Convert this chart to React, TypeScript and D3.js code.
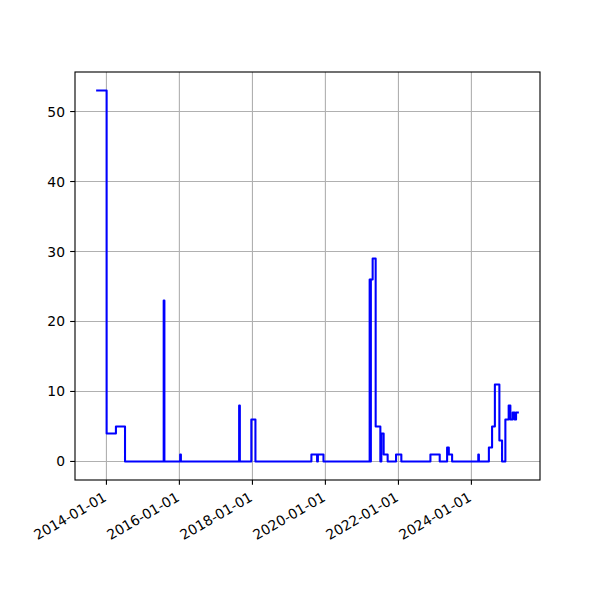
import React, { useRef, useEffect } from "react";
import * as d3 from "d3";

// change points of the step series (value holds until the next date)
const dates = [
  "2013-09-20", "2014-01-03", "2014-04-06", "2014-07-06",
  "2015-07-28", "2015-08-04", "2016-01-09", "2016-01-16",
  "2017-08-21", "2017-08-28", "2017-12-21", "2018-01-31",
  "2019-08-14", "2019-10-10", "2019-10-18", "2019-12-13",
  "2021-03-19", "2021-03-26", "2021-03-31", "2021-04-18",
  "2021-05-18", "2021-07-04", "2021-07-14", "2021-08-06",
  "2021-09-15", "2021-12-08", "2022-01-30", "2022-11-17",
  "2023-02-18", "2023-05-03", "2023-05-20", "2023-06-22",
  "2024-03-10", "2024-03-16", "2024-06-24", "2024-07-26",
  "2024-08-23", "2024-10-07", "2024-11-03", "2024-12-06",
  "2025-01-08", "2025-01-25", "2025-02-17", "2025-03-09",
  "2025-03-23", "2025-04-20",
];
const counts = [
  53, 4, 5, 0,
  23, 0, 1, 0,
  8, 0, 6, 0,
  1, 0, 1, 0,
  26, 0, 26, 29,
  5, 0, 4, 1,
  0, 1, 0, 1,
  0, 2, 1, 0,
  1, 0, 2, 5,
  11, 3, 0, 6,
  8, 6, 7, 6,
  7, 7,
];
const yTicks = [0, 10, 20, 30, 40, 50];
const xTickYears = [2014, 2016, 2018, 2020, 2022, 2024];

const W = 600;
const H = 600;
const margin = { top: 72, right: 60, bottom: 120, left: 75 };
const FONT = "'DejaVu Sans', sans-serif";
const FS = 13.89;

const App: React.FC = () => {
  const ref = useRef<SVGSVGElement | null>(null);

  useEffect(() => {
    const svg = d3.select(ref.current);
    svg.selectAll("*").remove();

    const parse = d3.timeParse("%Y-%m-%d");
    const data = dates.map((d, i) => ({ date: parse(d)!, value: counts[i] }));

    const x0 = margin.left;
    const x1 = W - margin.right;
    const y0 = H - margin.bottom;
    const y1 = margin.top;

    // matplotlib-like 5% padding on both axes
    const [dMin, dMax] = d3.extent(data, d => +d.date) as [number, number];
    const dPad = (dMax - dMin) * 0.05;
    const x = d3
      .scaleTime()
      .domain([new Date(dMin - dPad), new Date(dMax + dPad)])
      .range([x0, x1]);

    const vMax = d3.max(data, d => d.value)!;
    const vPad = vMax * 0.05;
    const y = d3.scaleLinear().domain([-vPad, vMax + vPad]).range([y0, y1]);

    const xTicks = xTickYears.map(yr => new Date(yr, 0, 1));
    const fmt = d3.timeFormat("%Y-%m-%d");

    svg.append("rect").attr("width", W).attr("height", H).attr("fill", "#fff");

    // grid
    const grid = svg.append("g").attr("stroke", "#b0b0b0").attr("stroke-width", 1.11);
    grid
      .selectAll(".gx")
      .data(xTicks)
      .enter()
      .append("line")
      .attr("x1", d => x(d))
      .attr("x2", d => x(d))
      .attr("y1", y1)
      .attr("y2", y0);
    grid
      .selectAll(".gy")
      .data(yTicks)
      .enter()
      .append("line")
      .attr("x1", x0)
      .attr("x2", x1)
      .attr("y1", d => y(d))
      .attr("y2", d => y(d));

    // series
    const line = d3
      .line<{ date: Date; value: number }>()
      .x(d => x(d.date))
      .y(d => y(d.value))
      .curve(d3.curveStepAfter);

    svg
      .append("path")
      .datum(data)
      .attr("d", line)
      .attr("fill", "none")
      .attr("stroke", "#0000ff")
      .attr("stroke-width", 2.08)
      .attr("stroke-linejoin", "round");

    // spines
    svg
      .append("rect")
      .attr("x", x0)
      .attr("y", y1)
      .attr("width", x1 - x0)
      .attr("height", y0 - y1)
      .attr("fill", "none")
      .attr("stroke", "#000")
      .attr("stroke-width", 1.11);

    // x ticks
    const gx = svg.append("g");
    gx.selectAll("line")
      .data(xTicks)
      .enter()
      .append("line")
      .attr("x1", d => x(d))
      .attr("x2", d => x(d))
      .attr("y1", y0)
      .attr("y2", y0 + 4.86)
      .attr("stroke", "#000")
      .attr("stroke-width", 1.11);
    gx.selectAll("text")
      .data(xTicks)
      .enter()
      .append("text")
      .attr("transform", d => `translate(${x(d) + 1}, ${y0 + 20}) rotate(-30)`)
      .attr("text-anchor", "end")
      .attr("font-family", FONT)
      .attr("font-size", FS)
      .attr("fill", "#000")
      .text(d => fmt(d));

    // y ticks
    const gy = svg.append("g");
    gy.selectAll("line")
      .data(yTicks)
      .enter()
      .append("line")
      .attr("x1", x0 - 4.86)
      .attr("x2", x0)
      .attr("y1", d => y(d))
      .attr("y2", d => y(d))
      .attr("stroke", "#000")
      .attr("stroke-width", 1.11);
    gy.selectAll("text")
      .data(yTicks)
      .enter()
      .append("text")
      .attr("x", x0 - 10)
      .attr("y", d => y(d))
      .attr("dy", "0.36em")
      .attr("text-anchor", "end")
      .attr("font-family", FONT)
      .attr("font-size", FS)
      .attr("fill", "#000")
      .text(d => String(d));
  }, []);

  return (
    <svg
      ref={ref}
      width={W}
      height={H}
      style={{ position: "absolute", left: 0, top: 0, display: "block" }}
    />
  );
};

export default App;
